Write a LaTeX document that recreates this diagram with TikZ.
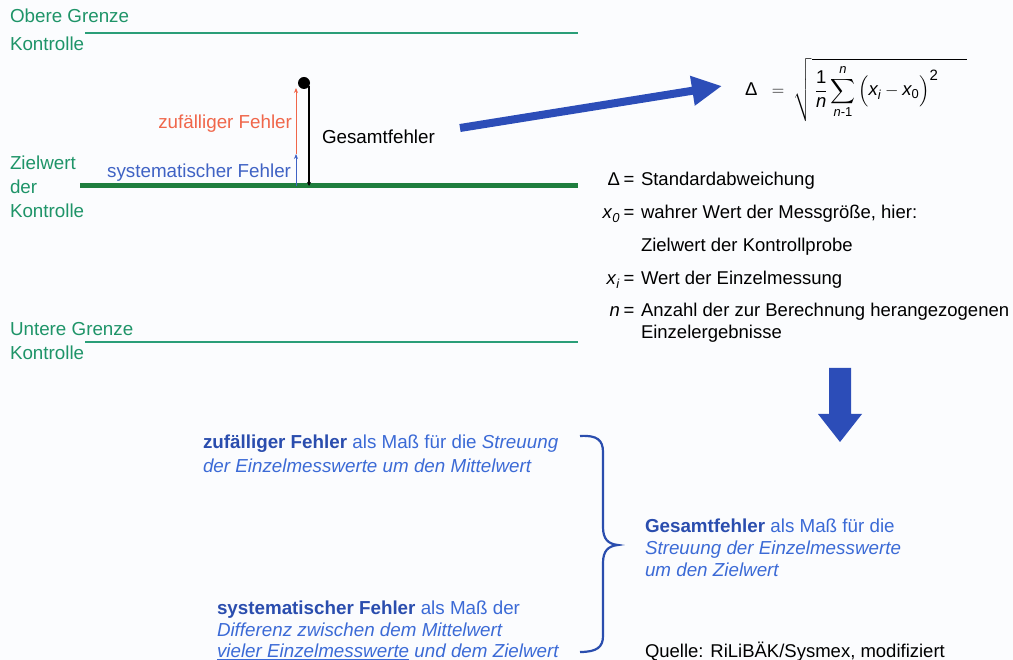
\documentclass[tikz,border=0pt]{standalone}
\usepackage{amsmath}
\usepackage{fontspec}
\setmainfont{Liberation Sans}
\usetikzlibrary{arrows.meta}

\definecolor{bgpaper}{HTML}{FBFCFE}
\definecolor{limitgreen}{HTML}{2A9E78}
\definecolor{targetgreen}{HTML}{1F7E3E}
\definecolor{labelgreen}{HTML}{1E9468}
\definecolor{randred}{HTML}{F0664A}
\definecolor{sysblue}{HTML}{3F62C4}
\definecolor{arrowblue}{HTML}{2C4DB8}
\definecolor{textblue}{HTML}{3B6AD6}
\definecolor{boldblue}{HTML}{2A4DAE}

\tikzset{
  txt/.style={inner sep=0pt, outer sep=0pt, font=\fontsize{18.8}{22}\selectfont},
  legtxt/.style={inner sep=0pt, outer sep=0pt, font=\fontsize{18.5}{22}\selectfont},
  greenlabel/.style={txt, text=labelgreen, anchor=base west},
  legend/.style={legtxt, anchor=base west},
  legsym/.style={legtxt, anchor=base east},
  bluetext/.style={txt, text=textblue, anchor=base west},
  limitline/.style={limitgreen, line width=1.6pt},
  targetline/.style={targetgreen, line width=5pt},
  bigarrow/.style={arrowblue, line width=8pt, -{Triangle[length=30pt,width=28pt]}},
}

\begin{document}
\begin{tikzpicture}[x=1pt,y=-1pt]
\fill[bgpaper] (0,0) rectangle (1013,660);
\useasboundingbox (0,0) rectangle (1013,660);

% control limits and target value
\coordinate (upperL) at (85,33);   \coordinate (upperR) at (578,33);
\coordinate (targetL) at (80,186); \coordinate (targetR) at (578,186);
\coordinate (lowerL) at (85,342);  \coordinate (lowerR) at (578,342);
\draw[limitline] (upperL) -- (upperR);
\draw[targetline] (targetL) -- (targetR);
\draw[limitline] (lowerL) -- (lowerR);

\node[greenlabel] (upper1) at (10,23) {Obere Grenze};
\node[greenlabel] (upper2) at (10,51) {Kontrolle};
\node[greenlabel] (target1) at (10,170) {Zielwert};
\node[greenlabel] (target2) at (10,194) {der};
\node[greenlabel] (target3) at (10,218) {Kontrolle};
\node[greenlabel] (lower1) at (10,336) {Untere Grenze};
\node[greenlabel] (lower2) at (10,360) {Kontrolle};

% single measurement and its error components
\node[circle, fill=black, minimum size=12pt, inner sep=0pt] (point) at (304,83) {};
\coordinate (sysBase) at (296,186);
\coordinate (sysTop) at (296,154);
\coordinate (randTop) at (296,88);
\coordinate (totTop) at (309,86);
\coordinate (totBase) at (309,186);
\draw[sysblue, line width=1pt, -{Stealth[length=5pt,width=4pt]}] (sysBase) -- (sysTop);
\draw[randred, line width=1pt, -{Stealth[length=5pt,width=4pt]}] (sysTop) -- (randTop);
\draw[black, line width=1.3pt, -{Stealth[length=4pt,width=4pt]}] (totTop) -- (totBase);

\node[txt, text=randred, anchor=base east] (randlabel) at (292,129) {zufälliger Fehler};
\node[txt, text=sysblue, anchor=base east] (syslabel) at (291,178) {systematischer Fehler};
\node[txt, anchor=base west] (totlabel) at (322,144) {Gesamtfehler};

% arrow to the formula
\coordinate (arrowStart) at (460,128);
\coordinate (arrowEnd) at (722,86);
\draw[bigarrow] (arrowStart) -- (arrowEnd);

% standard deviation formula
\node[legtxt, anchor=west] (formula) at (745,90)
  {$\displaystyle \text{Δ}\;\;=\;\sqrt{\rule[-16pt]{0pt}{44pt}\,\frac{\text{1}}{\textit{n}}\sum_{\textit{n}\text{-1}}^{\textit{n}}\,\Bigl(\textit{x}_{\textit{i}}-\textit{x}_{\text{0}}\Bigr)^{\text{\fontsize{15}{15}\selectfont 2}}\hspace{28pt}}$};

% legend of the symbols
\node[legsym] (symD) at (620,186) {Δ};
\node[legsym] (symX0) at (620,219) {\textit{x}\textsubscript{\textit{0}}};
\node[legsym] (symXi) at (620,285) {\textit{x}\textsubscript{\textit{i}}};
\node[legsym] (symN) at (620,317) {\textit{n}};
\foreach \y/\nm in {186/eqD, 219/eqX0, 285/eqXi, 317/eqN}
  \node[legtxt, anchor=base] (\nm) at (629,\y) {=};
\node[legend] (legD) at (641,186) {Standardabweichung};
\node[legend] (legX0a) at (641,219) {wahrer Wert der Messgröße, hier:};
\node[legend] (legX0b) at (641,252) {Zielwert der Kontrollprobe};
\node[legend] (legXi) at (641,285) {Wert der Einzelmessung};
\node[legend] (legNa) at (641,317) {Anzahl der zur Berechnung herangezogenen};
\node[legend] (legNb) at (641,339) {Einzelergebnisse};

% downward arrow
\fill[arrowblue] (829,368) -- (851,368) -- (851,414) -- (862,414) -- (840,442)
  -- (818,414) -- (829,414) -- cycle;

% explanations
\node[bluetext] (rand1) at (203,449)
  {\textcolor{boldblue}{\textbf{zufälliger Fehler}} als Maß für die \textit{Streuung}};
\node[bluetext] (rand2) at (203,472) {\textit{der Einzelmesswerte um den Mittelwert}};
\node[bluetext] (sys1) at (217,614)
  {\textcolor{boldblue}{\textbf{systematischer Fehler}} als Maß der};
\node[bluetext] (sys2) at (217,636) {\textit{Differenz zwischen dem Mittelwert}};
\node[bluetext] (sys3) at (217,657) {\textit{\underline{vieler Einzelmesswerte} und dem Zielwert}};

\draw[boldblue, line width=2.2pt]
  (580,436) .. controls (597,435) and (603,440) .. (603,452)
  -- (603,527) .. controls (603,539) and (608,544) .. (618,545)
  .. controls (608,546) and (603,551) .. (603,563)
  -- (603,636) .. controls (603,647) and (597,652) .. (580,652);

\node[bluetext] (tot1) at (645,532)
  {\textcolor{boldblue}{\textbf{Gesamtfehler}} als Maß für die};
\node[bluetext] (tot2) at (645,554) {\textit{Streuung der Einzelmesswerte}};
\node[bluetext] (tot3) at (645,576) {\textit{um den Zielwert}};

\node[legtxt, anchor=base west] (source) at (645,657) {Quelle: RiLiBÄK/Sysmex, modifiziert};
\end{tikzpicture}
\end{document}
